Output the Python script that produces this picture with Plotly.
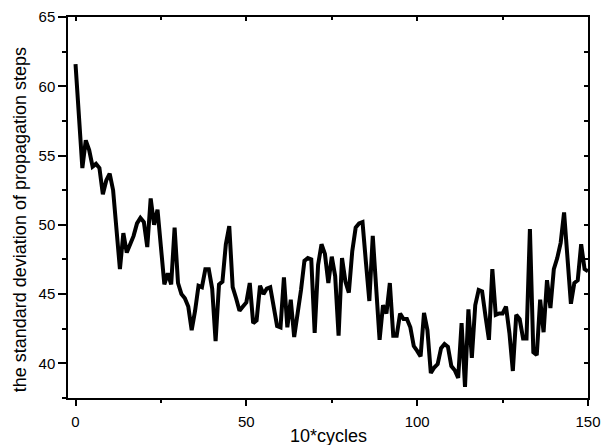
import plotly.graph_objects as go

# standard deviation of propagation steps, sampled every 10 cycles
cycles = list(range(0, 151))
std_steps = [
    61.6, 57.8, 54.1, 56.1, 55.4, 54.2, 54.4, 54.1, 52.2, 53.2,
    53.7, 52.5, 49.6, 46.8, 49.4, 48.0, 48.6, 49.2, 50.1, 50.5,
    50.2, 48.4, 51.9, 50.0, 51.1, 48.1, 45.7, 46.5, 45.7, 49.8,
    45.8, 45.0, 44.7, 44.1, 42.4, 43.8, 45.6, 45.5, 46.8, 46.8,
    45.4, 41.6, 45.7, 45.9, 48.6, 49.9, 45.5, 44.7, 43.8, 44.1,
    44.4, 45.8, 42.9, 43.1, 45.6, 45.0, 45.4, 45.5, 44.0, 42.7,
    42.6, 46.2, 42.6, 44.6, 41.9, 43.4, 45.3, 47.4, 47.6, 47.5,
    42.2, 47.1, 48.6, 47.9, 45.8, 47.7, 46.3, 42.0, 47.6, 45.9,
    45.1, 48.1, 49.8, 50.1, 50.2, 47.3, 44.5, 49.2, 45.8, 41.7,
    44.2, 43.6, 45.8, 42.0, 42.0, 43.6, 43.2, 43.2, 42.6, 41.25,
    40.9, 40.5, 43.65, 42.4, 39.3, 39.7, 39.95, 41.1, 41.4, 41.2,
    39.8, 39.5, 38.95, 42.9, 38.3, 43.9, 40.4, 44.2, 45.3, 45.2,
    43.4, 41.7, 46.8, 43.5, 43.6, 43.6, 44.1, 42.2, 39.45, 43.5,
    43.2, 41.8, 41.8, 49.7, 40.8, 40.6, 44.6, 42.25, 46.0, 44.0,
    46.8, 47.6, 48.7, 50.9, 47.6, 44.3, 45.8, 46.0, 48.6, 46.8,
    46.65,
]

x_range = [-2.2, 150]
y_range = [37.5, 65]
x_ticks = [0, 50, 100, 150]
y_ticks = [40, 45, 50, 55, 60, 65]
x_title = "10*cycles"
y_title = "the standard deviation of propagation steps"

FONT = "Liberation Sans, Arial, sans-serif"
AXIS_COLOR = "black"

fig = go.Figure()
fig.add_trace(go.Scatter(
    x=cycles, y=std_steps, mode="lines",
    line=dict(color="black", width=4, shape="linear"),
    showlegend=False, hoverinfo="x+y",
))
# empty trace so the top/right frame axes (inward ticks) get drawn
fig.add_trace(go.Scatter(x=[], y=[], xaxis="x2", yaxis="y2", showlegend=False))

fig.update_layout(
    width=601, height=445,
    margin=dict(l=68, r=13, t=17, b=47),
    paper_bgcolor="white", plot_bgcolor="white",
    font=dict(family=FONT, color="black", size=15),
    xaxis=dict(
        range=x_range, tickvals=x_ticks, ticktext=[str(v) for v in x_ticks],
        automargin=False,
        showgrid=False, zeroline=False,
        showline=True, linecolor=AXIS_COLOR, linewidth=1.5,
        ticks="outside", ticklen=6, tickwidth=1.5, tickcolor=AXIS_COLOR,
        minor=dict(dtick=25, tick0=0, ticks="outside", ticklen=3, tickwidth=1.5,
                   tickcolor=AXIS_COLOR, showgrid=False),
        tickfont=dict(size=15), ticklabelstandoff=3,
    ),
    yaxis=dict(
        range=y_range, tickvals=y_ticks, ticktext=[str(v) for v in y_ticks],
        automargin=False,
        showgrid=False, zeroline=False,
        showline=True, linecolor=AXIS_COLOR, linewidth=1.5,
        ticks="outside", ticklen=8, tickwidth=1.5, tickcolor=AXIS_COLOR,
        minor=dict(dtick=2.5, tick0=0, ticks="outside", ticklen=4, tickwidth=1.5,
                   tickcolor=AXIS_COLOR, showgrid=False),
        tickfont=dict(size=15),
    ),
    xaxis2=dict(
        overlaying="x", side="top", anchor="y", matches="x",
        range=x_range, tickvals=x_ticks, showticklabels=False, automargin=False,
        showgrid=False, zeroline=False,
        showline=True, linecolor=AXIS_COLOR, linewidth=1.5,
        ticks="inside", ticklen=4, tickwidth=1.5, tickcolor=AXIS_COLOR,
        minor=dict(dtick=25, tick0=0, ticks="inside", ticklen=3, tickwidth=1.5,
                   tickcolor=AXIS_COLOR, showgrid=False),
    ),
    yaxis2=dict(
        overlaying="y", side="right", anchor="x", matches="y",
        range=y_range, tickvals=y_ticks, showticklabels=False, automargin=False,
        showgrid=False, zeroline=False,
        showline=True, linecolor=AXIS_COLOR, linewidth=1.5,
        ticks="inside", ticklen=4, tickwidth=1.5, tickcolor=AXIS_COLOR,
        minor=dict(dtick=2.5, tick0=0, ticks="inside", ticklen=4, tickwidth=1.5,
                   tickcolor=AXIS_COLOR, showgrid=False),
    ),
    annotations=[
        dict(
            text=y_title, textangle=-90, showarrow=False,
            xref="paper", yref="paper", x=-0.092, y=0.467,
            xanchor="center", yanchor="middle",
            font=dict(size=18, family=FONT, color="black"),
        ),
        dict(
            text=x_title, showarrow=False,
            xref="paper", yref="paper", x=0.5, y=-0.1,
            xanchor="center", yanchor="middle",
            font=dict(size=18, family=FONT, color="black"),
        ),
    ],
)

fig.write_html("out.html")
